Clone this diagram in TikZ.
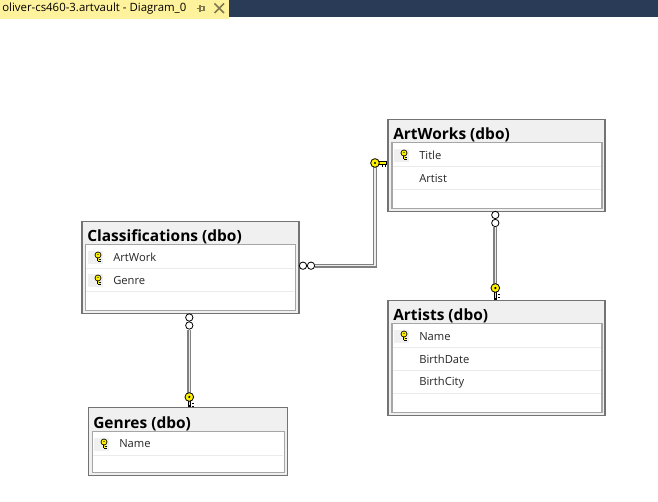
\documentclass[tikz,border=0pt]{standalone}
\usepackage{fontspec}
\setmainfont{Open Sans}
\usetikzlibrary{positioning, arrows}
\definecolor{tabyellow}{HTML}{FFF29D}
\definecolor{navybar}{HTML}{2A3B57}
\definecolor{keyyellow}{HTML}{FFF200}
\tikzset{
  tablebox/.style={draw=black!55, line width=.9pt, fill=black!6, anchor=north west, inner sep=0pt},
  tablebody/.style={draw=black!35, line width=.9pt, fill=white, anchor=north west, inner sep=0pt},
  tabletitle/.style={anchor=west, inner sep=0pt, font=\bfseries\fontsize{11.6}{13}\selectfont},
  fieldtext/.style={anchor=west, inner sep=0pt, text=black!85, font=\fontsize{8.4}{10}\selectfont},
  ring/.style={circle, draw=black, fill=white, line width=.6pt, inner sep=0pt, minimum size=5.5pt},
  keyhead/.style={circle, draw=black, fill=keyyellow, line width=.6pt, inner sep=0pt, minimum size=6.5pt},
  relation/.style={draw=black!50, line width=.9pt, double=black!8, double distance=1.2pt},
  keyshank/.style={draw=black, line width=2.4pt},
  keycore/.style={draw=keyyellow, line width=1pt},
  rowline/.style={draw=black!8, line width=.6pt},
  pics/rowkey/.style={code={
    \fill[black!6] (-10,-6) rectangle (5,7);
    \draw[black, line width=1.8pt] (0,-1) -- (0,4.5);
    \draw[black, line width=.6pt] (0,2) -- (3,2) (0,4.2) -- (3,4.2);
    \draw[keyyellow, line width=.7pt] (0,-1) -- (0,4);
    \draw[black, fill=keyyellow, line width=.5pt] (0,-2) circle (3);
    \fill[black] (0,-2.5) circle (.7);
  }}
}
\begin{document}
\begin{tikzpicture}[x=0.75pt, y=-0.75pt]
\useasboundingbox (0,0) rectangle (658,502);
% tab strip
\fill[navybar] (229,0) rectangle (658,17);
\fill[tabyellow] (0,0) rectangle (229,19);
\node[anchor=west, inner sep=0pt, font=\fontsize{8.55}{10}\selectfont] (tabtitle) at (2,8.5) {oliver-cs460-3.artvault - Diagram\_0};
\draw[black!50!tabyellow, line width=.8pt] (197,8.5) -- (200,8.5) (200,5) -- (200,12) (200,6.5) rectangle (204,10.5);
\draw[black!50!tabyellow, line width=1.3pt] (214.5,3.5) -- (224,13) (224,3.5) -- (214.5,13);

% tables
\node[tablebox, minimum width=162.75pt, minimum height=69pt] (artworks) at (387.4,118.6) {};
\node[tablebody, minimum width=157.5pt, minimum height=49.5pt] (artworksbody) at (391.4,142) {};
\node[tablebox, minimum width=162.75pt, minimum height=69pt] (classif) at (81.4,220.6) {};
\node[tablebody, minimum width=157.5pt, minimum height=49.5pt] (classifbody) at (84.6,244) {};
\node[tablebox, minimum width=162.75pt, minimum height=86.25pt] (artists) at (387.4,299.6) {};
\node[tablebody, minimum width=157.5pt, minimum height=66.75pt] (artistsbody) at (391.4,323) {};
\node[tablebox, minimum width=149.25pt, minimum height=51pt] (genres) at (87.6,406.6) {};
\node[tablebody, minimum width=144pt, minimum height=30.75pt] (genresbody) at (91.6,431) {};

\node[tabletitle] (artworkstitle) at (393,134.5) {ArtWorks (dbo)};
\node[tabletitle] (classiftitle) at (87,236.5) {Classifications (dbo)};
\node[tabletitle] (artiststitle) at (393,315.5) {Artists (dbo)};
\node[tabletitle] (genrestitle) at (93,423.5) {Genres (dbo)};

% row separators
\draw[rowline] (393,166) -- (601,166) (393,189) -- (601,189);
\draw[rowline] (86,268) -- (294,268) (86,291) -- (294,291);
\draw[rowline] (393,347) -- (601,347) (393,370) -- (601,370) (393,393) -- (601,393);
\draw[rowline] (93,455) -- (283,455);

\pic at (404,155) {rowkey};
\pic at (98,257) {rowkey};
\pic at (98,280) {rowkey};
\pic at (404,336) {rowkey};
\pic at (104,444) {rowkey};

\node[fieldtext] (title) at (419,155.5) {Title};
\node[fieldtext] (artist) at (419,178.5) {Artist};
\node[fieldtext] (artwork) at (113,257.5) {ArtWork};
\node[fieldtext] (genre) at (113,280.5) {Genre};
\node[fieldtext] (name) at (419,336.5) {Name};
\node[fieldtext] (birthdate) at (419,359.5) {BirthDate};
\node[fieldtext] (birthcity) at (419,382.5) {BirthCity};
\node[fieldtext] (genrename) at (119,443.5) {Name};

% relations
\node[ring] (c1) at (303,265.7) {};
\node[ring] (c2) at (311,265.7) {};
\node[ring] (a1) at (495.3,215) {};
\node[ring] (a2) at (495.3,223) {};
\node[ring] (g1) at (189.3,317.5) {};
\node[ring] (g2) at (189.3,325.5) {};
\coordinate (bend) at (375,265.7);
\coordinate (k1base) at (375,163);
\coordinate (k2base) at (495.3,288);
\coordinate (k3base) at (189.3,397);

\draw[relation] (k1base) -- (bend) -- (c2);
\draw[relation] (a2) -- (k2base);
\draw[relation] (g2) -- (k3base);

\draw[keyshank] (k1base) -- (artworks.west |- k1base);
\draw[keyshank] (k2base) -- (k2base |- artists.north);
\draw[keyshank] (k3base) -- (k3base |- genres.north);
\draw[keycore] (k1base) -- (386,163);
\draw[keycore] (k2base) -- (495.3,298.5);
\draw[keycore] (k3base) -- (189.3,405.5);
% teeth
\draw[black, line width=.7pt] (382,165) -- (382,167) (385,165) -- (385,167);
\draw[black, line width=.7pt] (498,294) -- (500,294) (498,297) -- (500,297);
\draw[black, line width=.7pt] (192,403) -- (194,403) (192,406) -- (194,406);

\node[keyhead] (k1) at (k1base) {};
\node[keyhead] (k2) at (k2base) {};
\node[keyhead] (k3) at (k3base) {};
\fill[black] (k1) circle (.9pt) (k2) circle (.9pt) (k3) circle (.9pt);
\end{tikzpicture}
\end{document}
